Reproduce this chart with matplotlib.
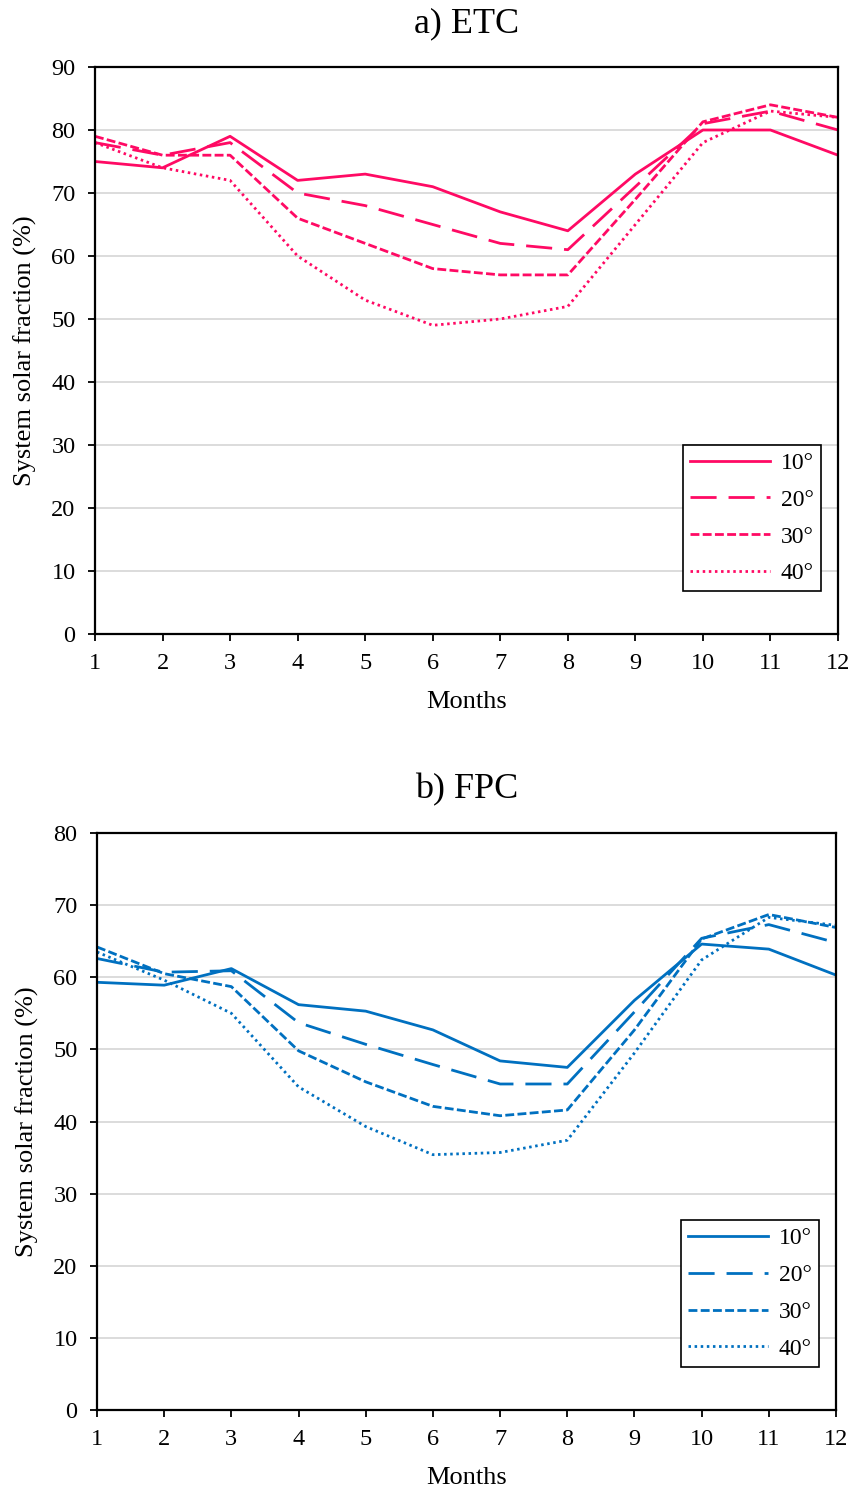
import numpy as np
import matplotlib
matplotlib.use("Agg")
import matplotlib.pyplot as plt

plt.rcParams["font.family"] = ["Liberation Serif", "DejaVu Serif"]

months = list(range(1, 13))
angles = ["10°", "20°", "30°", "40°"]

# a) evacuated tube collector
etc_10 = [75, 74, 79, 72, 73, 71, 67, 64, 73, 80, 80, 76]
etc_20 = [78, 76, 78, 70, 68, 65, 62, 61, 71, 81, 83, 80]
etc_30 = [79, 76, 76, 66, 62, 58, 57, 57, 69, 81.3, 84, 82]
etc_40 = [78, 74, 72, 60, 53, 49, 50, 52, 65, 78, 83, 82]

# b) flat plate collector
fpc_10 = [59.3, 58.9, 61.2, 56.2, 55.3, 52.7, 48.4, 47.5, 56.8, 64.6, 63.9, 60.3]
fpc_20 = [62.6, 60.7, 60.9, 53.7, 50.7, 47.9, 45.2, 45.2, 55.2, 65.4, 67.3, 64.8]
fpc_30 = [64.2, 60.5, 58.7, 49.8, 45.5, 42.1, 40.8, 41.6, 52.7, 65.3, 68.7, 66.9]
fpc_40 = [63.5, 59.6, 55.0, 44.8, 39.3, 35.4, 35.7, 37.4, 49.5, 62.4, 68.3, 67.2]

ETC_COLOR = "#FF0A64"
FPC_COLOR = "#0070C0"
DASHES = [None, (9.4, 4.3), (3.2, 1.2), (0.9, 1.3)]
TICK_FS = 17.5
LABEL_FS = 19


def draw_panel(ax, series, color, title, ymax):
    for vals, label, dash in zip(series, angles, DASHES):
        line, = ax.plot(months, vals, color=color, lw=2.0, label=label)
        if dash is not None:
            line.set_dashes(dash)
            line.set_dash_capstyle("butt")
    ax.set_xlim(1, 12)
    ax.set_ylim(0, ymax)
    ax.set_xticks(months)
    ax.set_yticks(np.arange(0, ymax + 1, 10))
    ax.yaxis.grid(True, color="#d9d9d9", lw=1.3)
    ax.set_axisbelow(True)
    for sp in ax.spines.values():
        sp.set_color("black")
        sp.set_linewidth(1.6)
    ax.tick_params(direction="out", length=5, width=1.3, labelsize=TICK_FS)
    ax.tick_params(axis="x", pad=9)
    ax.tick_params(axis="y", pad=9)
    ax.set_title(title, fontsize=26, pad=25)
    ax.set_xlabel("Months", fontsize=LABEL_FS, labelpad=12)
    ax.set_ylabel("System solar fraction (%)", fontsize=LABEL_FS, labelpad=10)
    leg = ax.legend(loc="lower right", bbox_to_anchor=(0.977, 0.075),
                    fontsize=17, handlelength=3.4, handletextpad=0.45,
                    borderpad=0.3, labelspacing=0.65, fancybox=False,
                    framealpha=1, edgecolor="black", borderaxespad=0)
    leg.get_frame().set_linewidth(1.2)


fig = plt.figure(figsize=(8.54, 14.88), dpi=100)
ax1 = fig.add_axes([95 / 854, 1 - 634 / 1488, 743 / 854, 567 / 1488])
ax2 = fig.add_axes([97 / 854, 1 - 1410 / 1488, 739 / 854, 577 / 1488])

draw_panel(ax1, [etc_10, etc_20, etc_30, etc_40], ETC_COLOR, "a) ETC", 90)
draw_panel(ax2, [fpc_10, fpc_20, fpc_30, fpc_40], FPC_COLOR, "b) FPC", 80)

fig.savefig("out.png", dpi=100)
